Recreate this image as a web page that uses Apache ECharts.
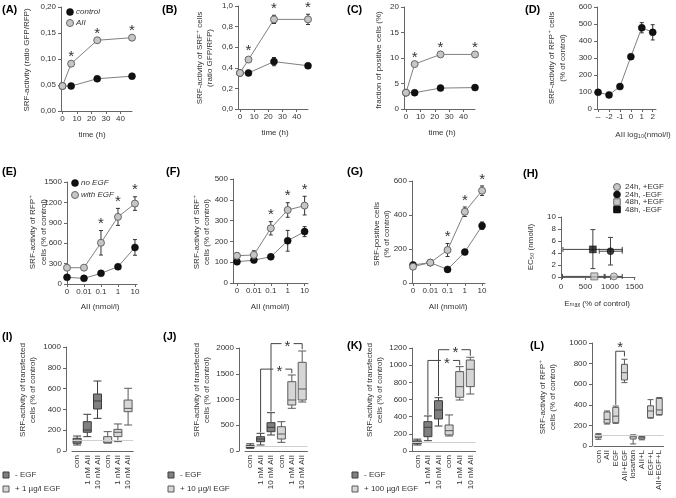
<!DOCTYPE html>
<html><head><meta charset="utf-8">
<script src="https://cdn.jsdelivr.net/npm/echarts@6/dist/echarts.min.js"></script>
<style>html,body{margin:0;padding:0;background:#fff}#c{width:676px;height:498px}</style>
</head><body><div id="c"></div>
<script>
// ================= DATA =================
// Panels A-C : time course
const timeH = [0, 6, 24, 48];
const timeTicks = [0, 10, 20, 30, 40];
const A_control = [0.048, 0.048, 0.062, 0.067];
const A_AII = [0.048, 0.091, 0.136, 0.141];
const B_control = [0.35, 0.35, 0.46, 0.42];
const B_controlErr = [0.01, 0.01, 0.04, 0.02];
const B_AII = [0.35, 0.48, 0.87, 0.87];
const B_AIIErr = [0.02, 0.02, 0.04, 0.05];
const C_control = [3.2, 3.2, 4.1, 4.2];
const C_AII = [3.2, 8.8, 10.7, 10.7];
const timeSig = [1, 2, 3];
// Panel D : dose response (log10 nmol/l)
const D_logDose = [-3, -2, -1, 0, 1, 2];
const D_tickLabels = ['--', '-2', '-1', '0', '1', '2'];
const D_values = [98, 83, 132, 308, 478, 451];
const D_err = [8, 6, 12, 10, 30, 45];
// Panels E-G : dose response with / without EGF
const doseIdx = [0, 1, 2, 3, 4];
const doseLabels = ['0', '0.01', '0.1', '1', '10'];
const E_noEGF = [98, 83, 157, 254, 538];
const E_noEGFErr = [15, 10, 20, 20, 115];
const E_withEGF = [239, 240, 606, 987, 1183];
const E_withEGFErr = [20, 20, 180, 125, 100];
const F_noEGF = [102, 110, 126, 203, 247];
const F_noEGFErr = [10, 8, 8, 50, 24];
const F_withEGF = [131, 135, 263, 351, 372];
const F_withEGFErr = [15, 20, 32, 35, 45];
const G_noEGF = [106, 120, 80, 182, 337];
const G_noEGFErr = [15, 8, 10, 10, 22];
const G_withEGF = [96, 120, 194, 419, 543];
const G_withEGFErr = [10, 8, 38, 28, 28];
const doseSig = [2, 3, 4];
// Panel H : EC50 vs Emax
const H_labels = ['24h, +EGF', '24h, -EGF', '48h, +EGF', '48h, -EGF'];
const H_emax = [1080, 1010, 680, 650];
const H_emaxLo = [880, 780, 30, 40];
const H_emaxHi = [1250, 1250, 900, 1250];
const H_ec50 = [0.1, 4.3, 0.1, 4.6];
const H_ec50Lo = [0.1, 2.0, 0.1, 1.4];
const H_ec50Hi = [0.1, 6.6, 0.1, 7.9];
const H_xTicks = [0, 500, 1000, 1500];
const H_yTicks = [0, 2, 4, 6, 8, 10];
// Panels I-K : box plots [min, q1, median, q3, max]
const boxCats = ['con', '1 nM AII', '10 nM AII', 'con', '1 nM AII', '10 nM AII'];
const I_noEGF = [[58, 74, 99, 122, 144], [138, 180, 202, 282, 353], [314, 404, 481, 548, 673]];
const I_EGF = [[76, 80, 99, 138, 186], [90, 138, 180, 208, 260], [250, 378, 410, 490, 603]];
const J_noEGF = [[52, 68, 84, 110, 140], [117, 181, 233, 278, 343], [311, 375, 460, 550, 744]];
const J_EGF = [[168, 233, 330, 472, 569], [829, 893, 990, 1346, 1476], [951, 990, 1204, 1722, 1942]];
const K_noEGF = [[70, 85, 100, 118, 138], [120, 167, 276, 342, 408], [291, 373, 478, 586, 621]];
const K_EGF = [[175, 187, 237, 303, 420], [594, 626, 750, 925, 983], [664, 750, 952, 1060, 1092]];
// Panel L
const L_cats = ['con', 'AII', 'EGF', 'AII+EGF', 'losartan', 'AII+L', 'EGF+L', 'AII+EGF+L'];
const L_box = [[65, 80, 97, 110, 120], [213, 222, 258, 330, 340], [220, 226, 290, 375, 388], [615, 641, 712, 793, 842],
               [20, 68, 90, 104, 108], [60, 68, 80, 92, 97], [270, 275, 340, 390, 450], [300, 305, 350, 462, 470]];
// significance brackets [fromIdx, toIdx, level, fromBottom, toBottom, starFraction]
const J_brackets = [[1, 4, 1590, 360, 1510, 0.6], [2, 5, 2085, 770, 1975, 0.53]];
const K_brackets = [[1, 4, 1055, 420, 1000, 0.6], [2, 5, 1180, 640, 1110, 0.53]];
const L_brackets = [[2, 3, 920, 400, 870, 0.5]];
const refLevel = 100;

// ================= HELPERS =================
const F = '"Liberation Sans", Arial, "DejaVu Sans", sans-serif';
const TXT = '#333';
const AX = '#666';
const grids = [], xAxes = [], yAxes = [], series = [], graphics = [];

function addGrid(l, t, w, h) { grids.push({left: l, top: t, width: w, height: h}); return grids.length - 1; }
function valueX(gi, min, max, ticks, labels) {
  xAxes.push({gridIndex: gi, type: 'value', min: min, max: max,
    axisLine: {show: true, onZero: false, lineStyle: {color: AX, width: 1}},
    axisTick: {show: true, length: 3, customValues: ticks, lineStyle: {color: AX}},
    axisLabel: {customValues: ticks, fontSize: 8, color: TXT, fontFamily: F, margin: 4, hideOverlap: false,
      formatter: v => { const k = ticks.indexOf(v); return k >= 0 ? labels[k] : ''; }},
    splitLine: {show: false}});
}
function valueY(gi, min, max, interval, fmt, offset) {
  yAxes.push({gridIndex: gi, type: 'value', min: min, max: max, interval: interval, offset: offset || 0,
    axisLine: {show: true, onZero: false, lineStyle: {color: AX, width: 1}},
    axisTick: {show: true, length: 3, lineStyle: {color: AX}},
    axisLabel: {fontSize: 8, lineHeight: 8, color: TXT, fontFamily: F, margin: 5, hideOverlap: false, formatter: fmt},
    splitLine: {show: false}});
}
const comma = d => v => v.toFixed(d).replace('.', ',');
const BLACK = {color: '#111', borderColor: '#000', borderWidth: 0.5};
const GRAY = {color: '#c6c6c6', borderColor: '#666', borderWidth: 1};

function errRender(params, api) {
  const x = api.value(0), y = api.value(1), e = api.value(2);
  if (!e) return null;
  const t = api.coord([x, y + e]), b = api.coord([x, y - e]);
  const c = 2, st = {stroke: '#333', lineWidth: 1};
  return {type: 'group', children: [
    {type: 'line', shape: {x1: t[0], y1: t[1], x2: b[0], y2: b[1]}, style: st},
    {type: 'line', shape: {x1: t[0] - c, y1: t[1], x2: t[0] + c, y2: t[1]}, style: st},
    {type: 'line', shape: {x1: b[0] - c, y1: b[1], x2: b[0] + c, y2: b[1]}, style: st}]};
}
function starRender(params, api) {
  const p = api.coord([api.value(0), api.value(1)]);
  return {type: 'text', x: p[0], y: p[1] - 6.5, style: {text: '*', font: '15px ' + F, fill: '#333',
    align: 'center', verticalAlign: 'middle', textAlign: 'center', textVerticalAlign: 'middle'}};
}
function lineSeries(gi, xs, vals, errs, style, z) {
  if (errs) series.push({type: 'custom', xAxisIndex: gi, yAxisIndex: gi, silent: true, z: z,
    renderItem: errRender, data: xs.map((x, k) => [x, vals[k], errs[k]])});
  series.push({type: 'line', xAxisIndex: gi, yAxisIndex: gi, silent: true, z: z + 1,
    data: xs.map((x, k) => [x, vals[k]]), symbol: 'circle', symbolSize: 7,
    lineStyle: {color: '#808080', width: 1}, itemStyle: style});
}
function starSeries(gi, xs, vals, errs, sig) {
  series.push({type: 'custom', xAxisIndex: gi, yAxisIndex: gi, silent: true, z: 10,
    renderItem: starRender, data: sig.map(k => [xs[k], vals[k] + (errs ? errs[k] : 0)])});
}
function txt(x, y, text, opt) {
  opt = opt || {};
  graphics.push({type: 'text', x: x, y: y, rotation: opt.rot ? Math.PI / 2 : 0, silent: true,
    style: {text: text, font: (opt.style || '') + ' ' + (opt.size || 8) + 'px ' + F, fill: opt.color || TXT,
      align: opt.align || 'center', verticalAlign: 'middle', textAlign: opt.align || 'center', textVerticalAlign: 'middle',
      lineHeight: opt.lh || 10}});
}
function panelLabel(x, y, s) { txt(x, y, s, {size: 11, style: 'bold', color: '#000', align: 'left'}); }
function circ(cx, cy, st) { graphics.push({type: 'circle', silent: true, shape: {cx: cx, cy: cy, r: 3.5}, style: {fill: st.color, stroke: st.borderColor, lineWidth: st.borderWidth}}); }
function sq(cx, cy, s, st) { graphics.push({type: 'rect', silent: true, shape: {x: cx - s / 2, y: cy - s / 2, width: s, height: s}, style: {fill: st.color, stroke: st.borderColor, lineWidth: 1}}); }

// ================= LINE PANELS =================
let g;
// A
g = addGrid(61, 7, 71, 104);
valueX(g, -1, 48, timeTicks, timeTicks.map(String));
valueY(g, 0, 0.2, 0.05, comma(2));
lineSeries(g, timeH, A_control, null, BLACK, 2);
lineSeries(g, timeH, A_AII, null, GRAY, 4);
starSeries(g, timeH, A_AII, null, timeSig);
// B
g = addGrid(238, 6, 70, 103);
valueX(g, -1.4, 48, timeTicks, timeTicks.map(String));
valueY(g, 0, 1, 0.2, comma(1));
lineSeries(g, timeH, B_control, B_controlErr, BLACK, 2);
lineSeries(g, timeH, B_AII, B_AIIErr, GRAY, 4);
starSeries(g, timeH, B_AII, B_AIIErr, timeSig);
// C
g = addGrid(404, 7, 71, 102);
valueX(g, -1.4, 48, timeTicks, timeTicks.map(String));
valueY(g, 0, 20, 5, v => String(v));
lineSeries(g, timeH, C_control, null, BLACK, 2);
lineSeries(g, timeH, C_AII, null, GRAY, 4);
starSeries(g, timeH, C_AII, null, timeSig);
// D
g = addGrid(597, 7, 59, 102);
valueX(g, -3.1, 2.3, D_logDose, D_tickLabels);
valueY(g, 0, 600, 100, v => String(v));
lineSeries(g, D_logDose, D_values, D_err, BLACK, 2);
// E
g = addGrid(67, 182, 70, 102);
valueX(g, 0, 4.12, doseIdx, doseLabels);
valueY(g, 0, 1500, 300, v => String(v));
lineSeries(g, doseIdx, E_noEGF, E_noEGFErr, BLACK, 2);
lineSeries(g, doseIdx, E_withEGF, E_withEGFErr, GRAY, 4);
starSeries(g, doseIdx, E_withEGF, E_withEGFErr, doseSig);
// F
g = addGrid(233, 179, 75, 104);
valueX(g, -0.235, 4.2, doseIdx, doseLabels);
valueY(g, 0, 500, 100, v => String(v));
lineSeries(g, doseIdx, F_noEGF, F_noEGFErr, BLACK, 2);
lineSeries(g, doseIdx, F_withEGF, F_withEGFErr, GRAY, 4);
starSeries(g, doseIdx, F_withEGF, F_withEGFErr, doseSig);
// G
g = addGrid(412, 181, 73, 102);
valueX(g, -0.06, 4.17, doseIdx, doseLabels);
valueY(g, 0, 600, 200, v => String(v));
lineSeries(g, doseIdx, G_noEGF, G_noEGFErr, BLACK, 2);
lineSeries(g, doseIdx, G_withEGF, G_withEGFErr, GRAY, 4);
starSeries(g, doseIdx, G_withEGF, G_withEGFErr, doseSig);
// H
const gH = addGrid(561, 217, 74, 60);
g = gH;
valueX(g, 0, 1510, H_xTicks, H_xTicks.map(String));
xAxes[xAxes.length - 1].axisLabel.margin = 6;
valueY(g, 0, 10, 2, v => String(v));
yAxes[yAxes.length - 1].axisLabel.show = false;
const H_styles = [GRAY, BLACK, GRAY, BLACK];
const H_symbols = ['circle', 'circle', 'rect', 'rect'];
series.push({type: 'custom', xAxisIndex: g, yAxisIndex: g, silent: true, z: 2,
  data: H_emax.map((v, k) => [v, H_ec50[k], H_emaxLo[k], H_emaxHi[k], H_ec50Lo[k], H_ec50Hi[k]]),
  renderItem: (params, api) => {
    const x = api.value(0), y = api.value(1);
    const l = api.coord([api.value(2), y]), r = api.coord([api.value(3), y]);
    const b = api.coord([x, api.value(4)]), t = api.coord([x, api.value(5)]);
    const st = {stroke: '#444', lineWidth: 1}, c = 2.5;
    const ch = [
      {type: 'line', shape: {x1: l[0], y1: l[1], x2: r[0], y2: r[1]}, style: st},
      {type: 'line', shape: {x1: l[0], y1: l[1] - c, x2: l[0], y2: l[1] + c}, style: st},
      {type: 'line', shape: {x1: r[0], y1: r[1] - c, x2: r[0], y2: r[1] + c}, style: st}];
    if (api.value(5) > api.value(4)) ch.push(
      {type: 'line', shape: {x1: b[0], y1: b[1], x2: t[0], y2: t[1]}, style: st},
      {type: 'line', shape: {x1: b[0] - c, y1: b[1], x2: b[0] + c, y2: b[1]}, style: st},
      {type: 'line', shape: {x1: t[0] - c, y1: t[1], x2: t[0] + c, y2: t[1]}, style: st});
    return {type: 'group', children: ch};
  }});
series.push({type: 'scatter', xAxisIndex: g, yAxisIndex: g, silent: true, z: 4,
  data: H_emax.map((v, k) => ({value: [v, H_ec50[k]], symbol: H_symbols[k], symbolSize: 7, itemStyle: H_styles[k]}))});

// ================= BOX PANELS =================
const DARK = {color: '#808080', borderColor: '#3c3c3c', borderWidth: 1};
const LIGHT = {color: '#d6d6d6', borderColor: '#5a5a5a', borderWidth: 1};
function boxX(gi, cats) {
  xAxes.push({gridIndex: gi, type: 'category', data: cats, boundaryGap: true,
    axisLine: {onZero: false, lineStyle: {color: AX}}, axisTick: {show: false},
    axisLabel: {rotate: 90, interval: 0, fontSize: 8, color: TXT, fontFamily: F, margin: 4, hideOverlap: false}});
}
function boxSeries(gi, items, bw) {
  series.push({type: 'boxplot', xAxisIndex: gi, yAxisIndex: gi, silent: true, boxWidth: [bw, bw], z: 3,
    data: items,
    markLine: {silent: true, symbol: 'none', label: {show: false}, animation: false,
      lineStyle: {color: '#d0d0d0', type: 'solid', width: 1}, data: [{yAxis: refLevel}]}});
}
function bracketRender(gap) {
  return (params, api) => {
    const a = api.value(0), b = api.value(1), lvl = api.value(2);
    const pA = api.coord([a, lvl]), pB = api.coord([b, lvl]);
    const pAb = api.coord([a, api.value(3)]), pBb = api.coord([b, api.value(4)]);
    const sx = pA[0] + (pB[0] - pA[0]) * api.value(5);
    const st = {stroke: '#444', lineWidth: 1, fill: null};
    const ch = [];
    if (gap) {
      ch.push({type: 'polyline', shape: {points: [pAb, pA, [sx - 6, pA[1]]]}, style: st});
      ch.push({type: 'polyline', shape: {points: [[sx + 6, pB[1]], pB, pBb]}, style: st});
      ch.push({type: 'text', x: sx, y: pA[1] + 3, style: {text: '*', font: '15px ' + F, fill: '#333', align: 'center', verticalAlign: 'middle', textAlign: 'center', textVerticalAlign: 'middle'}});
    } else {
      ch.push({type: 'polyline', shape: {points: [pAb, pA, pB, pBb]}, style: st});
      ch.push({type: 'text', x: sx, y: pA[1] - 3, style: {text: '*', font: '15px ' + F, fill: '#333', align: 'center', verticalAlign: 'middle', textAlign: 'center', textVerticalAlign: 'middle'}});
    }
    return {type: 'group', children: ch};
  };
}
function bracketSeries(gi, data, gap) {
  series.push({type: 'custom', xAxisIndex: gi, yAxisIndex: gi, silent: true, z: 5, clip: false,
    renderItem: bracketRender(gap), data: data});
}
const pairItems = (dark, light) => dark.map(v => ({value: v, itemStyle: DARK})).concat(light.map(v => ({value: v, itemStyle: LIGHT})));
// I
g = addGrid(72, 347, 61.2, 104);
boxX(g, boxCats); valueY(g, 0, 1000, 200, v => String(v), 6);
boxSeries(g, pairItems(I_noEGF, I_EGF), 8);
// J
g = addGrid(245, 348, 62.4, 103);
boxX(g, boxCats); valueY(g, 0, 2000, 500, v => String(v), 6);
boxSeries(g, pairItems(J_noEGF, J_EGF), 8);
bracketSeries(g, J_brackets, true);
// K
g = addGrid(412, 348, 63.6, 103);
boxX(g, boxCats); valueY(g, 0, 1200, 200, v => String(v), 0);
boxSeries(g, pairItems(K_noEGF, K_EGF), 8);
bracketSeries(g, K_brackets, true);
// L
g = addGrid(594, 343, 69.6, 103);
boxX(g, L_cats); valueY(g, 0, 1000, 200, v => String(v), 2);
boxSeries(g, L_box.map(v => ({value: v, itemStyle: LIGHT})), 6);
bracketSeries(g, L_brackets, false);

// ================= TEXT / LEGENDS =================
panelLabel(2, 10, '(A)'); panelLabel(162, 10, '(B)'); panelLabel(347, 10, '(C)'); panelLabel(525, 10, '(D)');
panelLabel(2, 172, '(E)'); panelLabel(166, 172, '(F)'); panelLabel(347, 172, '(G)'); panelLabel(523, 174, '(H)');
panelLabel(2, 337, '(I)'); panelLabel(163, 337, '(J)'); panelLabel(347, 346, '(K)'); panelLabel(530, 346, '(L)');
// y-axis names
txt(27, 60, 'SRF-activity (ratio GFP/RFP)', {rot: true});
txt(205, 58, 'SRF-activity of SRF\u207A cells\n(ratio GFP/RFP)', {rot: true});
txt(379, 60, 'fraction of positive cells (%)', {rot: true});
txt(557, 58, 'SRF-activity of RFP\u207A cells\n(% of control)', {rot: true, lh: 11});
txt(38, 232, 'SRF-activity of RFP\u207A\ncells (% of control)', {rot: true, lh: 11});
txt(202, 232, 'SRF-activity of SRF\u207A\ncells (% of control)', {rot: true});
txt(382, 234, 'SRF-positive cells\n(% of control)', {rot: true});
txt(531, 247, 'EC\u2085\u2080 (nmol/l)', {rot: true});
txt(28, 390, 'SRF-activity of transfected\ncells (% of control)', {rot: true});
txt(202, 390, 'SRF-activity of transfected\ncells (% of control)', {rot: true});
txt(375, 390, 'SRF-activity of transfected\ncells (% of control)', {rot: true});
txt(548, 397, 'SRF-activity of RFP\u207A\ncells (% of control)', {rot: true});
// x-axis names
txt(92, 135, 'time (h)'); txt(275, 133, 'time (h)'); txt(442, 133, 'time (h)');
txt(643, 135, 'AII log\u2081\u2080(nmol/l)');
txt(100, 307, 'AII (nmol/l)'); txt(270, 307, 'AII (nmol/l)'); txt(448, 307, 'AII (nmol/l)');
txt(597, 304, 'E\u2098\u2090\u2093 (% of control)');
// legends A, E
circ(70, 12, BLACK); txt(76, 12, 'control', {align: 'left', style: 'italic'});
circ(70, 23, GRAY); txt(76, 23, 'AII', {align: 'left', style: 'italic'});
circ(75, 183, BLACK); txt(81, 183, 'no EGF', {align: 'left', style: 'italic'});
circ(75, 195, GRAY); txt(81, 195, 'with EGF', {align: 'left', style: 'italic'});
// legend H
const H_legY = [187, 194.5, 202, 209.5];
H_labels.forEach((s, k) => {
  if (H_symbols[k] === 'circle') circ(617, H_legY[k], H_styles[k]); else sq(617, H_legY[k], 6.5, H_styles[k]);
  txt(625, H_legY[k], s, {align: 'left'});
});
// legends I-K
[[6, 15, '+ 1 \u00B5g/l EGF'], [171, 180, '+ 10 \u00B5g/l EGF'], [355, 364, '+ 100 \u00B5g/l EGF']].forEach(a => {
  sq(a[0], 475, 6, DARK); txt(a[1], 475, '- EGF', {align: 'left'});
  sq(a[0], 489, 6, LIGHT); txt(a[1], 489, a[2], {align: 'left'});
});

const chart = echarts.init(document.getElementById('c'), null, {renderer: 'canvas'});
chart.setOption({animation: false, backgroundColor: '#fff', grid: grids, xAxis: xAxes, yAxis: yAxes, series: series, graphic: graphics});
// H y tick labels positioned through the axis scale (convertToPixel)
H_yTicks.forEach(v => {
  const p = chart.convertToPixel({gridIndex: gH}, [0, v]);
  txt(p[0] - 5, p[1], String(v), {align: 'right'});
});
chart.setOption({graphic: graphics});
</script></body></html>
